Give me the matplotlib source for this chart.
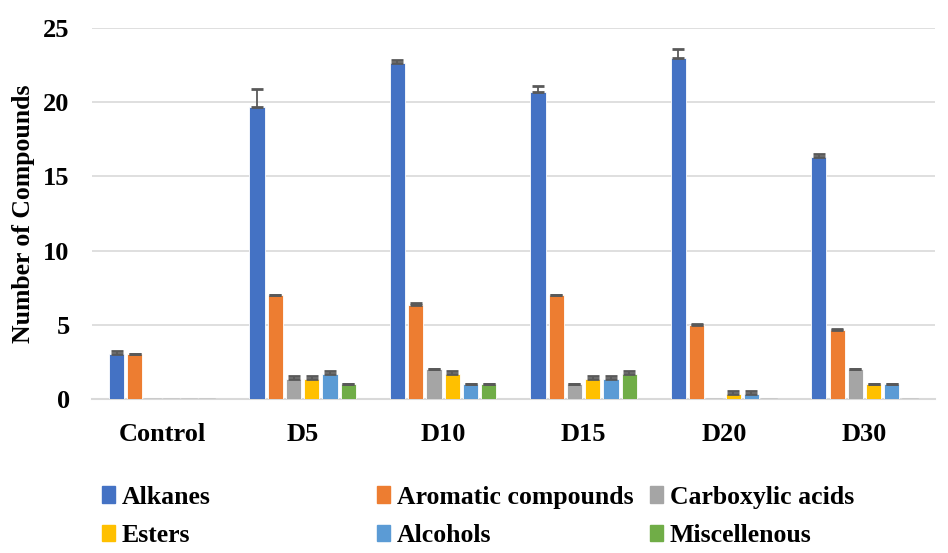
import numpy as np
import matplotlib.pyplot as plt
from matplotlib.patches import Patch

plt.rcParams['font.family'] = ['Liberation Serif', 'DejaVu Serif']
plt.rcParams['font.weight'] = 'bold'

groups = ['Control', 'D5', 'D10', 'D15', 'D20', 'D30']
series = ['Alkanes', 'Aromatic compounds', 'Carboxylic acids',
          'Esters', 'Alcohols', 'Miscellenous']
colors = ['#4472C4', '#ED7D31', '#A5A5A5', '#FFC000', '#5B9BD5', '#70AD47']

alkanes = [3.0, 19.67, 22.67, 20.67, 23.0, 16.33]
aromatic = [3.0, 7.0, 6.33, 7.0, 5.0, 4.67]
carboxylic = [0.0, 1.33, 2.0, 1.0, 0.0, 2.0]
esters = [0.0, 1.33, 1.67, 1.33, 0.33, 1.0]
alcohols = [0.0, 1.67, 1.0, 1.33, 0.33, 1.0]
misc = [0.0, 1.0, 1.0, 1.67, 0.0, 0.0]

alkanes_err = [0.2, 1.2, 0.15, 0.4, 0.6, 0.15]
aromatic_err = [0.03, 0.03, 0.15, 0.03, 0.03, 0.03]
carboxylic_err = [0.0, 0.2, 0.03, 0.03, 0.0, 0.03]
esters_err = [0.0, 0.2, 0.2, 0.2, 0.2, 0.03]
alcohols_err = [0.0, 0.2, 0.03, 0.2, 0.2, 0.03]
misc_err = [0.0, 0.03, 0.03, 0.2, 0.0, 0.0]

values = [alkanes, aromatic, carboxylic, esters, alcohols, misc]
errors = [alkanes_err, aromatic_err, carboxylic_err, esters_err, alcohols_err, misc_err]

fig = plt.figure(figsize=(9.48, 5.53), dpi=100)
ax = fig.add_axes([0.097, 0.2785, 0.889, 0.671])

x = np.arange(len(groups))
slot = 0.13
width = 0.108
for i, (vals, errs, c) in enumerate(zip(values, errors, colors)):
    pos = x + (i - 2.5) * slot
    ax.bar(pos, vals, width, color=c, edgecolor='white', linewidth=0.6, zorder=3)
    # flat line for zero-value bars like Excel
    for p, v in zip(pos, vals):
        if v == 0:
            ax.plot([p - width / 2, p + width / 2], [0.03, 0.03], color='#C8C8C8', lw=1.2, zorder=3)
    e = np.array(errs)
    mask = e > 0
    ax.errorbar(pos[mask], np.array(vals)[mask], yerr=[np.zeros(mask.sum()), e[mask]],
                fmt='none', ecolor='#595959', elinewidth=1.3, capsize=4, capthick=2, zorder=4)

ax.set_xlim(-0.5, len(groups) - 0.5)
ax.set_ylim(0, 25)
ax.set_yticks([0, 5, 10, 15, 20, 25])
ax.set_xticks(x)
ax.set_xticklabels(groups)
ax.tick_params(axis='x', length=0, labelsize=19, pad=17)
ax.tick_params(axis='y', length=0, labelsize=19, pad=16)
ax.grid(axis='y', color='#D9D9D9', lw=1.2, zorder=0)
for s in ['top', 'right', 'left']:
    ax.spines[s].set_visible(False)
ax.spines['bottom'].set_color('#D9D9D9')
ax.spines['bottom'].set_linewidth(1.5)
ax.set_ylabel('Number of Compounds', fontsize=18.5, fontweight='bold', labelpad=6)

handles = [Patch(color=c, label=s) for s, c in zip(series, colors)]
cols = [(0.108, [0, 3]), (0.398, [1, 4]), (0.686, [2, 5])]
for xpos, idx in cols:
    fig.legend([handles[k] for k in idx], [series[k] for k in idx],
               loc='upper left', bbox_to_anchor=(xpos, 0.122), frameon=False,
               fontsize=18.5, handlelength=0.5, handleheight=0.6, handletextpad=0.25,
               labelspacing=0.6, borderaxespad=0, borderpad=0)

fig.savefig('out.png', dpi=100)
